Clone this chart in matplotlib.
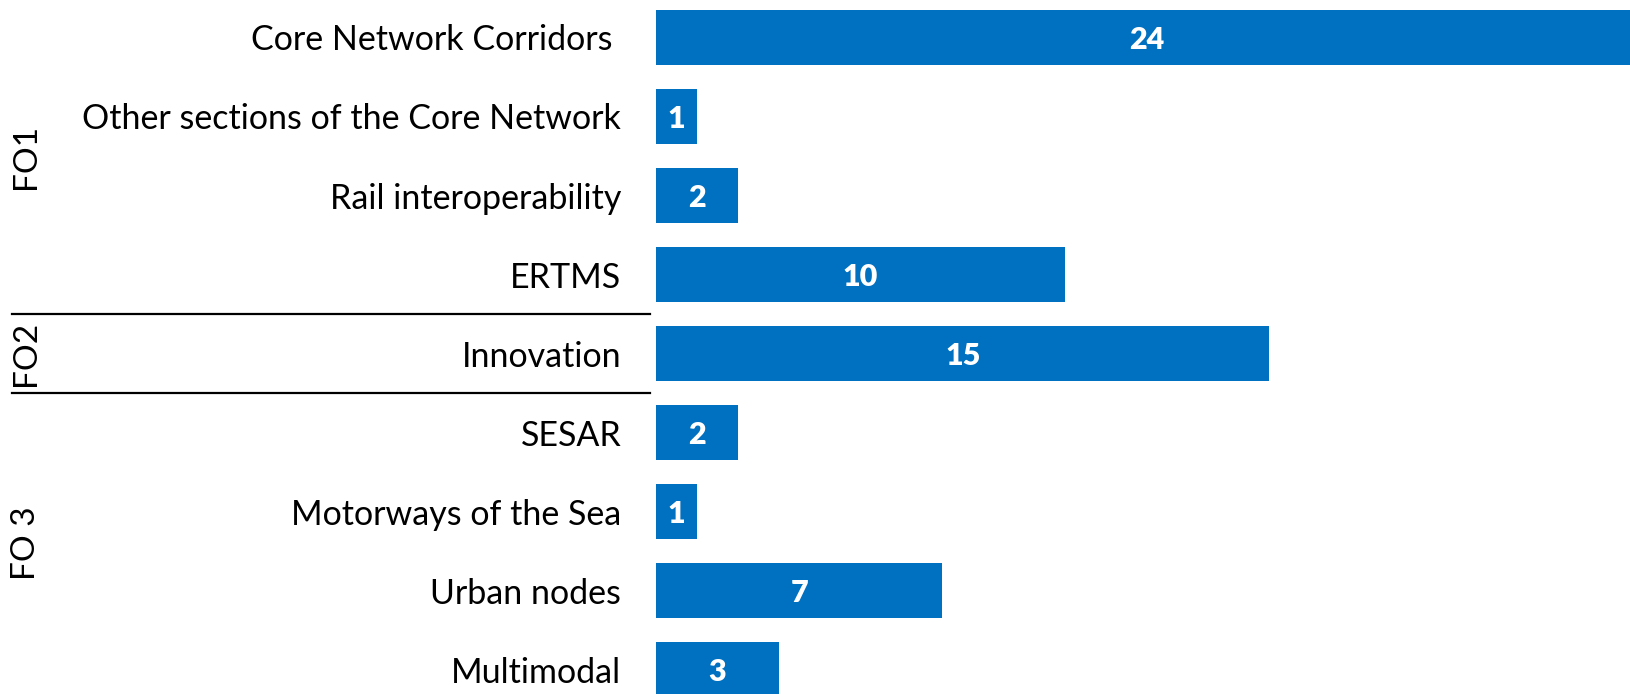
import matplotlib.pyplot as plt
import matplotlib.transforms as mtransforms

# --- Data ---
categories = [
    'Core Network Corridors ',
    'Other sections of the Core Network',
    'Rail interoperability',
    'ERTMS',
    'Innovation',
    'SESAR',
    'Motorways of the Sea',
    'Urban nodes',
    'Multimodal',
]
values = [24, 1, 2, 10, 15, 2, 1, 7, 3]
group_names = ['FO1', 'FO2', 'FO 3']
group_centers = [1.5, 4.0, 6.4]
group_breaks = [3.5, 4.5]

plt.rcParams['font.family'] = ['Lato', 'DejaVu Sans']

fig = plt.figure(figsize=(16.31, 6.94), dpi=100)
ax = fig.add_axes([656 / 1631, 0, 1 - 656 / 1631, 1])

y = list(range(len(categories)))
bars = ax.barh(y, values, height=0.7, color='#0070C0')

ax.set_xlim(0, 23.84)
ax.set_ylim(8.305, -0.473)
ax.set_yticks(y)
ax.set_yticklabels(categories, fontsize=24.5)
ax.tick_params(axis='y', length=0, pad=25)
ax.set_xticks([])
for s in ax.spines.values():
    s.set_visible(False)

# value labels inside bars
for bar, v in zip(bars, values):
    ax.text(bar.get_x() + bar.get_width() / 2, bar.get_y() + bar.get_height() / 2,
            str(v), ha='center', va='center_baseline', color='white',
            fontsize=22, fontweight='heavy')

# group separators and labels
trans = mtransforms.blended_transform_factory(fig.transFigure, ax.transData)
for yb in group_breaks:
    ax.plot([12 / 1631, 650 / 1631], [yb, yb], color='black', lw=1.6,
            transform=trans, clip_on=False)
for name, yc in zip(group_names, group_centers):
    ax.text(26 / 1631, yc, name, transform=trans, rotation=90,
            ha='center', va='center', fontsize=24)

fig.savefig('out.png', dpi=100)
